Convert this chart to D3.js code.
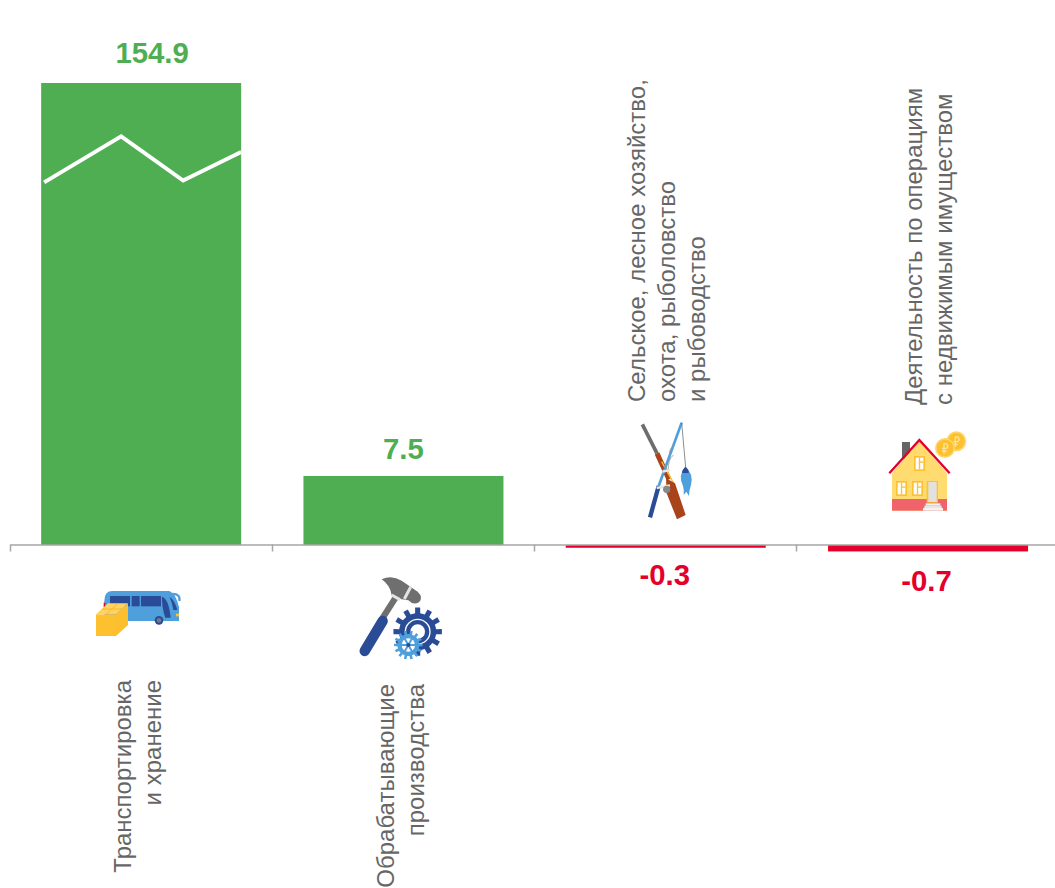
<!DOCTYPE html>
<html>
<head>
<meta charset="utf-8">
<script src="https://cdn.jsdelivr.net/npm/d3@7"></script>
<style>
    html, body { margin: 0; padding: 0; background: #fff; }
    svg { display: block; }
    text { font-family: "Liberation Sans", Arial, sans-serif; }
</style>
</head>
<body>
<svg id="chart"></svg>
<script>
const categories = ["transport", "manufacturing", "agriculture", "realty"]
const values = [154.9, 7.5, -0.3, -0.7]
const valueLabels = ["154.9", "7.5", "-0.3", "-0.7"]
const categoryLines = [
    ["Транспортировка", "и хранение"],
    ["Обрабатывающие", "производства"],
    ["Сельское, лесное хозяйство,", "охота, рыболовство", "и рыбоводство"],
    ["Деятельность по операциям", "с недвижимым имуществом"]
]
// the first bar does not fit, the axis is cut at this value and marked with a white line
const axisCut = 50.2
const axisMin = -1
const breakShare = [0.015, 0.4, 0.71, 1]
const breakValues = [39.4, 44.4, 39.6, 42.7]

const GREEN = "#4fae52"
const RED = "#e4002b"
const GREY = "#666666"
const NAVY = "#2a4b96"
const BLUE = "#4f9fdc"
const YELLOW = "#fdc02f"

const width = 1055, height = 888
const svg = d3.select("#chart").attr("width", width).attr("height", height)

const xScale = d3.scaleBand().domain(categories).range([10, 1059.2])
const yScale = d3.scaleLinear().domain([axisMin, axisCut]).range([554.2, 83]).clamp(true)
const barWidth = 200
const barX = d => xScale(d) + (xScale.bandwidth() - barWidth) / 2

// bars
svg.selectAll(".bar")
    .data(categories)
    .join("rect")
    .attr("class", "bar")
    .attr("x", d => barX(d))
    .attr("width", barWidth)
    .attr("y", (d, i) => Math.min(yScale(values[i]), yScale(0)))
    .attr("height", (d, i) => Math.abs(yScale(values[i]) - yScale(0)))
    .attr("fill", (d, i) => values[i] < 0 ? RED : GREEN)

// white break line
const breakLine = d3.line()
    .x((d, i) => barX(categories[0]) + breakShare[i] * barWidth)
    .y(d => yScale(d))
svg.append("path")
    .attr("d", breakLine(breakValues))
    .attr("fill", "none")
    .attr("stroke", "#fff")
    .attr("stroke-width", 4)

// axis with the ticks between the categories
const tickScale = d3.scaleLinear().domain([0, categories.length]).range([10, 1058])
const xAxis = d3.axisBottom(tickScale)
    .tickValues(d3.range(categories.length + 1))
    .tickFormat("")
    .tickSize(7)
    .tickSizeOuter(0)
const xAxisGroup = svg.append("g")
    .attr("transform", `translate(0,${yScale(0) - 0.5})`)
    .call(xAxis)
xAxisGroup.selectAll("line, path").attr("stroke", "#a6a6a6").attr("stroke-width", 1.5)

// value labels
const labelShift = [11, 0, -1, -1.5]
const labelGap = [-20, -17, 40, 46.5]
svg.selectAll(".value")
    .data(categories)
    .join("text")
    .attr("class", "value")
    .attr("x", (d, i) => xScale(d) + xScale.bandwidth() / 2 + labelShift[i])
    .attr("y", (d, i) => (values[i] < 0 ? yScale(0) : yScale(values[i])) + labelGap[i])
    .attr("text-anchor", "middle")
    .attr("font-size", 29.3)
    .attr("font-weight", "bold")
    .attr("fill", (d, i) => values[i] < 0 ? RED : GREEN)
    .text((d, i) => valueLabels[i])

// rotated category labels
const labelBaseline = [131, 394, 645, 922]
const labelEdge = [680, 684, 402, 405]
categories.forEach((c, i) => {
    categoryLines[i].forEach((line, j) => {
        const x = labelBaseline[i] + j * 30
        svg.append("text")
            .attr("transform", `translate(${x},${labelEdge[i]}) rotate(-90)`)
            .attr("text-anchor", values[i] < 0 ? "start" : "end")
            .attr("font-size", 24)
            .attr("fill", GREY)
            .text(line)
    })
})

// icons, drawn in 3x units
const icon = (x, y) => svg.append("g").attr("transform", `translate(${x},${y}) scale(${1 / 3})`)

const gearPath = (cx, cy, rOut, rIn, teeth) => {
    const pts = []
    const step = Math.PI * 2 / teeth
    for (let i = 0; i < teeth; i++) {
        const a = i * step
        const w = step * 0.2
        ;[[a - w * 1.3, rIn], [a - w, rOut], [a + w, rOut], [a + w * 1.3, rIn]].forEach(p => {
            pts.push([cx + p[1] * Math.cos(p[0]), cy + p[1] * Math.sin(p[0])])
        })
    }
    return "M" + pts.map(p => p.join(",")).join("L") + "Z"
}

const drawBus = () => {
    const g = icon(80, 570)
    g.append("path").attr("d", "M73 92Q73 63 97 63L268 63Q288 70 297 112L297 153L73 153Z").attr("fill", BLUE)
    g.append("path").attr("d", "M278 72Q302 72 298 93").attr("fill", "none").attr("stroke", BLUE).attr("stroke-width", 7)
    g.append("rect").attr("x", 90).attr("y", 78).attr("width", 60).attr("height", 31).attr("fill", NAVY)
    g.append("rect").attr("x", 155).attr("y", 78).attr("width", 24).attr("height", 31).attr("fill", NAVY)
    g.append("rect").attr("x", 183).attr("y", 78).attr("width", 60).attr("height", 31).attr("fill", NAVY)
    g.append("path").attr("d", "M246 80Q266 86 272 143L256 143Q245 112 246 80Z").attr("fill", NAVY)
    g.append("path").attr("d", "M268 80Q284 90 292 120L280 120Q276 95 268 80Z").attr("fill", NAVY)
    g.append("circle").attr("cx", 237).attr("cy", 151).attr("r", 13).attr("fill", NAVY)
    g.append("circle").attr("cx", 237).attr("cy", 151).attr("r", 7).attr("fill", "#6d7a8a")
    g.append("rect").attr("x", 288).attr("y", 131).attr("width", 9).attr("height", 8).attr("fill", YELLOW)
    g.append("rect").attr("x", 71).attr("y", 98).attr("width", 5).attr("height", 14).attr("fill", RED)
    g.append("path").attr("d", "M48 133L108 133L108 198L48 198Z").attr("fill", YELLOW)
    g.append("path").attr("d", "M108 133L144 100L144 165L108 198Z").attr("fill", "#fcbf2e")
    g.append("path").attr("d", "M48 133L84 100L144 100L108 133Z").attr("fill", "#ffd261")
    g.append("path").attr("d", "M66 117L126 117M78 133L114 100").attr("stroke", "#f6b92c").attr("stroke-width", 3)
}

const drawTools = () => {
    const g = icon(345, 565)
    g.append("path").attr("d", "M158 88L112 160").attr("stroke", "#6f6f6f").attr("stroke-width", 19)
    g.append("path").attr("d", "M113 168L59 258").attr("stroke", NAVY).attr("stroke-width", 31).attr("stroke-linecap", "round")
    g.append("path").attr("d", "M110 43Q140 28 170 47L218 80Q236 97 222 112Q205 122 190 106L165 102L140 90Q135 60 110 43Z").attr("fill", "#6f6f6f")
    g.append("path").attr("d", "M197 66L178 102M140 90L165 104").attr("stroke", "#e3e3e3").attr("stroke-width", 9)
    g.append("path").attr("d", gearPath(218, 200, 73, 56, 12)).attr("fill", NAVY)
    g.append("circle").attr("cx", 218).attr("cy", 200).attr("r", 37).attr("fill", "none").attr("stroke", "#fff").attr("stroke-width", 4)
    g.append("circle").attr("cx", 218).attr("cy", 200).attr("r", 22).attr("fill", "#fff")
    g.append("path").attr("d", gearPath(190, 240, 43, 33, 14)).attr("fill", BLUE)
    g.append("circle").attr("cx", 190).attr("cy", 240).attr("r", 20).attr("fill", "#fff")
    d3.range(6).forEach(k => {
        const a = k * Math.PI / 3
        g.append("path")
            .attr("d", `M190 240L${190 + 24 * Math.cos(a)} ${240 + 24 * Math.sin(a)}`)
            .attr("stroke", BLUE).attr("stroke-width", 6)
    })
    g.append("circle").attr("cx", 190).attr("cy", 240).attr("r", 6).attr("fill", NAVY)
}

const drawFishing = () => {
    const g = icon(625, 410)
    g.append("path").attr("d", "M52 43L96 130").attr("stroke", "#6d6d6d").attr("stroke-width", 11)
    g.append("path").attr("d", "M96 130L132 208").attr("stroke", "#a8431a").attr("stroke-width", 15)
    g.append("path").attr("d", "M110 155L146 220").attr("stroke", YELLOW).attr("stroke-width", 4)
    g.append("path").attr("d", "M123 205L150 220L182 315L156 328L125 250Z").attr("fill", "#a8431a")
    g.append("path").attr("d", "M170 38L101 228").attr("stroke", BLUE).attr("stroke-width", 8)
    g.append("path").attr("d", "M101 228L75 322").attr("stroke", NAVY).attr("stroke-width", 13)
    g.append("path").attr("d", "M170 38L182 172").attr("stroke", "#777").attr("stroke-width", 2.5)
    g.append("path").attr("d", "M150 105Q130 115 135 135M145 135Q128 150 130 180").attr("fill", "none").attr("stroke", "#999").attr("stroke-width", 2.5)
    g.append("path").attr("d", "M95 234L135 226M112 185L135 180").attr("stroke", "#e6e6e6").attr("stroke-width", 7)
    g.append("circle").attr("cx", 125).attr("cy", 238).attr("r", 11).attr("fill", "#888")
    g.append("path").attr("d", "M181 170Q206 190 198 225Q192 240 192 258L184 245L176 255Q178 240 174 228Q158 195 181 170Z").attr("fill", BLUE)
    g.append("path").attr("d", "M181 170Q192 178 191 189L171 189Q172 178 181 170Z").attr("fill", NAVY)
}

const drawHouse = () => {
    const g = icon(875, 420)
    const coin = (cx, cy) => {
        g.append("circle").attr("cx", cx).attr("cy", cy).attr("r", 30).attr("fill", "#ffd56b")
        g.append("circle").attr("cx", cx).attr("cy", cy).attr("r", 25).attr("fill", YELLOW)
        g.append("path")
            .attr("d", `M${cx - 3} ${cy + 17}L${cx - 3} ${cy - 13}L${cx + 5} ${cy - 13}Q${cx + 12} ${cy - 6} ${cx + 5} ${cy + 1}L${cx - 9} ${cy + 1}M${cx - 9} ${cy + 9}L${cx + 5} ${cy + 9}`)
            .attr("fill", "none").attr("stroke", "#ffe39a").attr("stroke-width", 4)
    }
    coin(244, 64)
    coin(210, 84)
    g.append("rect").attr("x", 81).attr("y", 66).attr("width", 24).attr("height", 52).attr("fill", "#666")
    g.append("path").attr("d", "M51 160L133 62L216 160L216 272L51 272Z").attr("fill", "#ffdb70")
    g.append("rect").attr("x", 51).attr("y", 237).attr("width", 165).attr("height", 35).attr("fill", "#f0636a")
    g.append("path").attr("d", "M43 160L133 60L224 160").attr("fill", "none").attr("stroke", RED).attr("stroke-width", 7)
    const windowAt = (x, y, w, h) => {
        g.append("rect").attr("x", x).attr("y", y).attr("width", w).attr("height", h).attr("fill", YELLOW)
        g.append("rect").attr("x", x + 5).attr("y", y + 5).attr("width", w - 10).attr("height", h - 10).attr("fill", "#fff")
        g.append("rect").attr("x", x + w / 2 - 2).attr("y", y + 5).attr("width", 4).attr("height", h - 10).attr("fill", YELLOW)
        g.append("rect").attr("x", x + w / 2).attr("y", y + h * 0.36).attr("width", w / 2 - 5).attr("height", 4).attr("fill", YELLOW)
    }
    windowAt(117, 108, 33, 45)
    windowAt(63, 183, 33, 45)
    windowAt(111, 183, 33, 45)
    g.append("rect").attr("x", 155).attr("y", 183).attr("width", 34).attr("height", 65).attr("fill", YELLOW)
    g.append("rect").attr("x", 160).attr("y", 186).attr("width", 25).attr("height", 60).attr("fill", "#e1e1e1")
    g.append("rect").attr("x", 152).attr("y", 250).attr("width", 44).attr("height", 7).attr("fill", "#f2f2f2")
    g.append("rect").attr("x", 148).attr("y", 257).attr("width", 52).attr("height", 7).attr("fill", "#e6e6e6")
    g.append("rect").attr("x", 144).attr("y", 264).attr("width", 60).attr("height", 8).attr("fill", "#f2f2f2")
}

drawBus()
drawTools()
drawFishing()
drawHouse()
</script>
</body>
</html>
